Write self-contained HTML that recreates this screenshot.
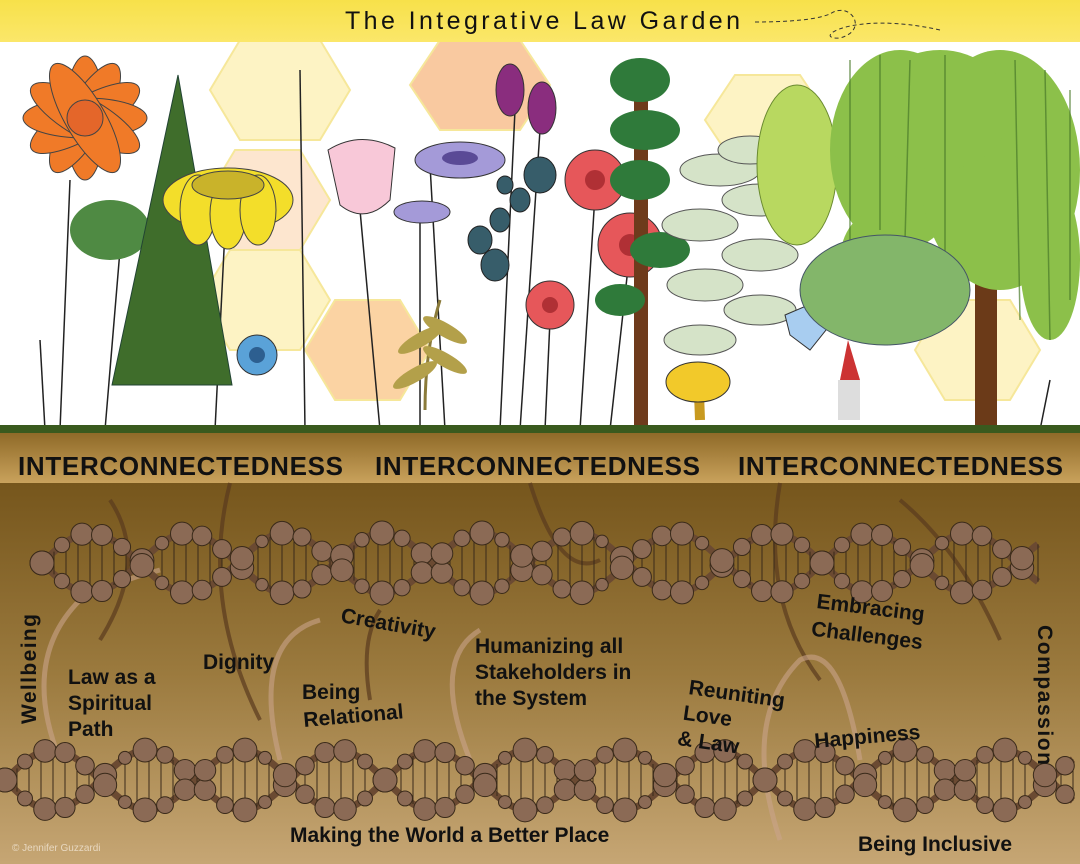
<!DOCTYPE html>
<html><head><meta charset="utf-8"><style>
html,body{margin:0;padding:0;width:1080px;height:864px;overflow:hidden;background:#fff}
svg{display:block}
text{font-family:"Liberation Sans",sans-serif;font-weight:bold;fill:#111}
</style></head><body>
<svg id="s" width="1080" height="864" viewBox="0 0 1080 864" xmlns="http://www.w3.org/2000/svg">
<defs>
<linearGradient id="top" x1="0" y1="0" x2="0" y2="1"><stop offset="0" stop-color="#f7e14a"/><stop offset="1" stop-color="#fbe76a"/></linearGradient>
<linearGradient id="band" x1="0" y1="0" x2="0" y2="1"><stop offset="0" stop-color="#8f6a28"/><stop offset="1" stop-color="#c9a25c"/></linearGradient>
<linearGradient id="soil" x1="0" y1="0" x2="0" y2="1"><stop offset="0" stop-color="#76561c"/><stop offset="0.5" stop-color="#9b7a3e"/><stop offset="1" stop-color="#c6a674"/></linearGradient>
</defs>
<rect width="1080" height="864" fill="#fff"/>
<g fill="#fdf3c4" stroke="#f6e79a" stroke-width="2">
<polygon points="240,40 320,40 350,90 320,140 240,140 210,90"/>
<polygon points="440,40 520,40 550,85 520,130 440,130 410,85" fill="#f9c9a0"/>
<polygon points="735,75 800,75 830,120 800,165 735,165 705,120"/>
<polygon points="335,300 400,300 430,350 400,400 335,400 305,350" fill="#fbd3a3"/>
<polygon points="235,150 300,150 330,200 300,250 235,250 205,200" fill="#fde6cf"/>
<polygon points="230,250 300,250 330,300 300,350 230,350 200,300"/>
<polygon points="945,300 1010,300 1040,350 1010,400 945,400 915,350"/>
</g>
<rect width="1080" height="42" fill="url(#top)"/>
<text x="345" y="29" font-size="25" style="font-weight:normal" textLength="395">The Integrative Law Garden</text>
<path d="M755 22 C800 22 820 18 830 14 C850 0 870 30 840 38 C810 40 850 10 940 30" fill="none" stroke="#333" stroke-dasharray="4 3"/>
<g stroke="#222" stroke-width="1.5" fill="none">
<path d="M70 180 L60 430"/><path d="M120 250 L105 430"/><path d="M225 230 L215 430"/><path d="M300 70 L305 430"/><path d="M360 210 L380 430"/><path d="M430 165 L445 430"/><path d="M420 220 L420 430"/><path d="M515 110 L500 430"/><path d="M540 130 L520 430"/><path d="M595 195 L580 430"/><path d="M630 250 L610 430"/><path d="M550 320 L545 430"/><path d="M40 340 L45 430"/><path d="M1050 380 L1040 430"/>
</g>
<g transform="translate(85,118)" fill="#f07a28" stroke="#444" stroke-width="1">
<ellipse rx="20" ry="62"/><ellipse rx="20" ry="62" transform="rotate(30)"/><ellipse rx="20" ry="62" transform="rotate(60)"/><ellipse rx="20" ry="62" transform="rotate(90)"/><ellipse rx="20" ry="62" transform="rotate(120)"/><ellipse rx="20" ry="62" transform="rotate(150)"/>
<circle r="18" fill="#e4662a"/></g>
<ellipse cx="110" cy="230" rx="40" ry="30" fill="#4f8a43"/>
<polygon points="178,75 112,385 232,385" fill="#3f6d2b" stroke="#243" stroke-width="1"/>
<g transform="translate(228,200)" fill="#f3de2a" stroke="#444"><ellipse rx="65" ry="32"/><ellipse rx="18" ry="35" transform="translate(-30,10)"/><ellipse rx="18" ry="35" transform="translate(0,14)"/><ellipse rx="18" ry="35" transform="translate(30,10)"/><ellipse cy="-15" rx="36" ry="14" fill="#c9b32a"/></g>
<circle cx="257" cy="355" r="20" fill="#5aa2d8" stroke="#333"/><circle cx="257" cy="355" r="8" fill="#2d5f90"/>
<path d="M328 150 Q360 130 395 148 L390 200 Q365 225 340 205 Z" fill="#f8c8d8" stroke="#333"/>
<ellipse cx="460" cy="160" rx="45" ry="18" fill="#a49ad8" stroke="#333"/><ellipse cx="460" cy="158" rx="18" ry="7" fill="#5a4a96"/>
<ellipse cx="422" cy="212" rx="28" ry="11" fill="#a49ad8" stroke="#333"/>
<ellipse cx="510" cy="90" rx="14" ry="26" fill="#8a2d7e" stroke="#333"/><ellipse cx="542" cy="108" rx="14" ry="26" fill="#8a2d7e" stroke="#333"/>
<g fill="#375d6a" stroke="#222"><ellipse cx="540" cy="175" rx="16" ry="18"/><ellipse cx="520" cy="200" rx="10" ry="12"/><ellipse cx="500" cy="220" rx="10" ry="12"/><ellipse cx="480" cy="240" rx="12" ry="14"/><ellipse cx="495" cy="265" rx="14" ry="16"/><ellipse cx="505" cy="185" rx="8" ry="9"/></g>
<path d="M425 410 Q425 350 440 300" stroke="#8a7a3a" stroke-width="3" fill="none"/>
<g fill="#b3a04a"><ellipse cx="420" cy="340" rx="25" ry="7" transform="rotate(-30 420 340)"/><ellipse cx="445" cy="360" rx="25" ry="7" transform="rotate(30 445 360)"/><ellipse cx="415" cy="375" rx="25" ry="7" transform="rotate(-30 415 375)"/><ellipse cx="445" cy="330" rx="25" ry="7" transform="rotate(30 445 330)"/></g>
<g fill="#e6575a" stroke="#333"><circle cx="595" cy="180" r="30"/><circle cx="630" cy="245" r="32"/><circle cx="550" cy="305" r="24"/></g>
<g fill="#b03035"><circle cx="595" cy="180" r="10"/><circle cx="630" cy="245" r="11"/><circle cx="550" cy="305" r="8"/></g>
<rect x="634" y="80" width="14" height="350" fill="#6e3b1c"/>
<g fill="#2f7a3a"><ellipse cx="640" cy="80" rx="30" ry="22"/><ellipse cx="645" cy="130" rx="35" ry="20"/><ellipse cx="640" cy="180" rx="30" ry="20"/><ellipse cx="660" cy="250" rx="30" ry="18"/><ellipse cx="620" cy="300" rx="25" ry="16"/></g>
<g fill="#d5e3c8" stroke="#555"><ellipse cx="720" cy="170" rx="40" ry="16"/><ellipse cx="760" cy="200" rx="38" ry="16"/><ellipse cx="700" cy="225" rx="38" ry="16"/><ellipse cx="760" cy="255" rx="38" ry="16"/><ellipse cx="705" cy="285" rx="38" ry="16"/><ellipse cx="760" cy="310" rx="36" ry="15"/><ellipse cx="700" cy="340" rx="36" ry="15"/><ellipse cx="750" cy="150" rx="32" ry="14"/></g>
<ellipse cx="797" cy="165" rx="40" ry="80" fill="#b8d860" stroke="#6a8a30"/>
<path d="M698 380 Q698 365 700 420" stroke="#c89a20" stroke-width="10"/>
<ellipse cx="698" cy="382" rx="32" ry="20" fill="#f2c92a" stroke="#333"/>
<path d="M785 315 L820 300 L830 325 L810 350 L790 335 Z" fill="#a8cdf0" stroke="#333"/>
<rect x="975" y="120" width="22" height="310" fill="#6b3a18"/>
<g fill="#8cc04a"><ellipse cx="900" cy="150" rx="70" ry="100"/><ellipse cx="1000" cy="170" rx="80" ry="120"/><ellipse cx="940" cy="110" rx="70" ry="60"/><ellipse cx="1050" cy="260" rx="30" ry="80"/><ellipse cx="880" cy="260" rx="40" ry="50"/></g>
<g stroke="#4a7a2a" stroke-width="1.5" fill="none" opacity="0.7"><path d="M850 60 L850 300"/><path d="M880 55 L880 230"/><path d="M910 60 L905 240"/><path d="M945 55 L945 300"/><path d="M1015 60 L1020 320"/><path d="M1045 70 L1050 340"/><path d="M1070 90 L1070 300"/></g>
<ellipse cx="885" cy="290" rx="85" ry="55" fill="#83b66a" stroke="#456"/>
<path d="M848 340 L860 380 L840 380 Z" fill="#c33"/><rect x="838" y="380" width="22" height="40" fill="#ddd"/>
<rect x="0" y="425" width="1080" height="10" fill="#3a5a1e"/>
<rect x="0" y="433" width="1080" height="50" fill="url(#band)"/>
<rect x="0" y="483" width="1080" height="381" fill="url(#soil)"/>
<g stroke="#5a3a1e" stroke-width="4" fill="none" opacity="0.7">
<path d="M230 483 Q200 600 260 720"/><path d="M530 483 Q560 580 600 560"/><path d="M780 483 Q760 600 820 680"/><path d="M900 500 Q960 550 1000 640"/><path d="M110 500 Q150 560 100 640"/><path d="M380 610 Q360 640 370 700"/>
</g>
<g stroke="#c9a48a" stroke-width="5" fill="none" opacity="0.6">
<path d="M60 760 Q20 660 80 600 Q120 580 160 570"/><path d="M280 760 Q250 640 320 620"/><path d="M470 760 Q430 660 480 630"/><path d="M780 840 Q740 720 800 660 Q840 640 860 760"/>
</g>
<g id="dna"></g>
<g font-size="26"><text x="18" y="475" textLength="325">INTERCONNECTEDNESS</text><text x="375" y="475" textLength="325">INTERCONNECTEDNESS</text><text x="738" y="475" textLength="325">INTERCONNECTEDNESS</text></g>
<g font-size="21">
<text transform="translate(36,724) rotate(-90)" textLength="110">Wellbeing</text>
<text x="68" y="684">Law as a</text><text x="68" y="710">Spiritual</text><text x="68" y="736">Path</text>
<text x="203" y="669">Dignity</text>
<text transform="translate(340,622) rotate(10)">Creativity</text>
<text x="302" y="699">Being</text><text transform="translate(304,727) rotate(-5)">Relational</text>
<text x="475" y="653">Humanizing all</text><text x="475" y="679">Stakeholders in</text><text x="475" y="705">the System</text>
<g transform="translate(688,694) rotate(8)"><text>Reuniting</text><text x="-2" y="26">Love</text><text x="-4" y="52">&amp; Law</text></g>
<g transform="translate(816,608) rotate(7)"><text>Embracing</text><text x="-2" y="28">Challenges</text></g>
<text transform="translate(815,748) rotate(-5)">Happiness</text>
<text transform="translate(1038,625) rotate(90)" textLength="140">Compassion</text>
<text x="290" y="842">Making the World a Better Place</text>
<text x="858" y="851">Being Inclusive</text>
</g>
<text x="12" y="851" font-size="10" style="font-weight:normal;fill:#e8d8c0">© Jennifer Guzzardi</text>
</svg>
<script>
var g=document.getElementById('dna'),ns='http://www.w3.org/2000/svg';
function el(n,a){var e=document.createElementNS(ns,n);for(var k in a)e.setAttribute(k,a[k]);g.appendChild(e);}
function dna(x0,x1,cy,A,L){
 var p1='',p2='';
 for(var x=x0;x<=x1;x+=4){var t=(x-x0)/L*2*Math.PI;p1+=(x==x0?'M':'L')+x+' '+(cy+A*Math.sin(t));p2+=(x==x0?'M':'L')+x+' '+(cy-A*Math.sin(t));}
 el('path',{d:p1,stroke:'#6b4a32','stroke-width':7,fill:'none'});el('path',{d:p2,stroke:'#6b4a32','stroke-width':7,fill:'none'});
 for(var x=x0;x<=x1;x+=12){var t=(x-x0)/L*2*Math.PI;el('line',{x1:x,y1:cy+A*Math.sin(t),x2:x,y2:cy-A*Math.sin(t),stroke:'#3a2a1a','stroke-width':1});}
 for(var x=x0;x<=x1;x+=20){var t=(x-x0)/L*2*Math.PI,r=6+6*Math.abs(Math.cos(t*2));
  el('circle',{cx:x,cy:cy+A*Math.sin(t),r:r,fill:'#8b6a55',stroke:'#3a2a1a'});
  el('circle',{cx:x,cy:cy-A*Math.sin(t),r:r,fill:'#8b6a55',stroke:'#3a2a1a'});}
}
dna(42,1040,563,30,195);
dna(5,1075,780,30,190);
</script>
</body></html>
